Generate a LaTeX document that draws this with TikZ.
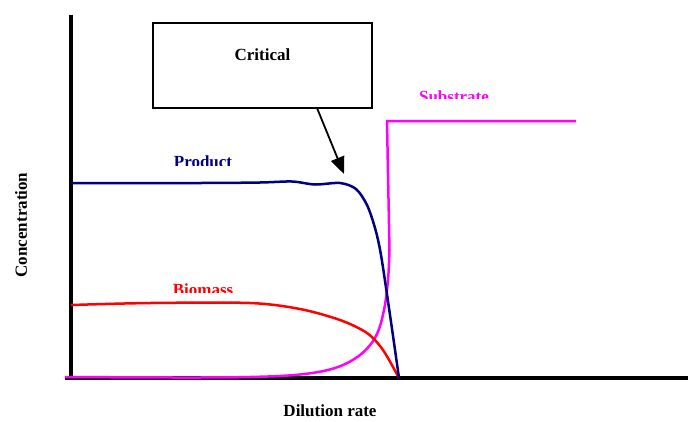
\documentclass[tikz,border=0pt]{standalone}
\usepackage{fontspec}
\setmainfont{Liberation Serif}
\usetikzlibrary{arrows.meta}
\definecolor{prodcol}{RGB}{0,0,128}
\definecolor{biocol}{RGB}{255,0,0}
\definecolor{subcol}{RGB}{255,0,255}
\tikzset{
  axisline/.style={line width=3.5pt, black},
  curve/.style={line width=2.5pt, line join=round},
  lbl/.style={font=\fontsize{17}{20}\selectfont\bfseries, inner sep=0pt, anchor=base},
  critbox/.style={draw=black, line width=1.5pt, fill=white, minimum width=219pt, minimum height=85pt, inner sep=0pt},
}
\begin{document}
\begin{tikzpicture}[x=1pt,y=-1pt]
\useasboundingbox (0,0) rectangle (688,421);
% axes
\coordinate (ytop) at (71,15);
\coordinate (orig) at (71,378);
\coordinate (xend) at (688,378);
\coordinate (xstart) at (65,378);
\draw[axisline] (ytop) -- (orig);
\draw[axisline] (xstart) -- (xend);
% substrate
\draw[curve, subcol] plot[smooth, tension=0.6] coordinates {(65,377) (180,377.5) (250,377) (300,374.5) (335,368) (360,355) (376,336) (384,310) (388,280) (389.5,250)} -- (387,121) -- (576,121);
% biomass
\draw[curve, biocol] plot[smooth, tension=0.5] coordinates {(71,305) (150,303) (250,303) (300,309) (340,320) (367,333) (383,350) (399,378)};
% product
\draw[curve, prodcol] plot[smooth, tension=0.5] coordinates {(71,183) (200,183) (260,182.5) (292,181.5) (315,184.5) (340,183) (356,189) (367,205) (375,228) (381,255) (390,315) (399,378)};
% labels (clipped as in the reference)
\begin{scope}
\clip (150,140) rectangle (260,165);
\node[lbl, prodcol] (prod) at (203,167) {Product};
\end{scope}
\begin{scope}
\clip (150,270) rectangle (260,292);
\node[lbl, biocol] (bio) at (203,295) {Biomass};
\end{scope}
\begin{scope}
\clip (400,80) rectangle (510,98.5);
\node[lbl, subcol] (sub) at (454,102) {Substrate};
\end{scope}
\node[lbl] (dil) at (330,416) {Dilution rate};
\node[lbl, rotate=90] (conc) at (27,225) {Concentration};
% critical box and arrow
\node[critbox] (crit) at (262.5,65.5) {};
\node[lbl] (critt) at (262.5,60.5) {Critical};
\coordinate (arrstart) at (317,108);
\coordinate (arrtip) at (344,174);
\draw[line width=1.8pt, -{Triangle[length=17pt,width=14pt]}] (arrstart) -- (arrtip);
\end{tikzpicture}
\end{document}
